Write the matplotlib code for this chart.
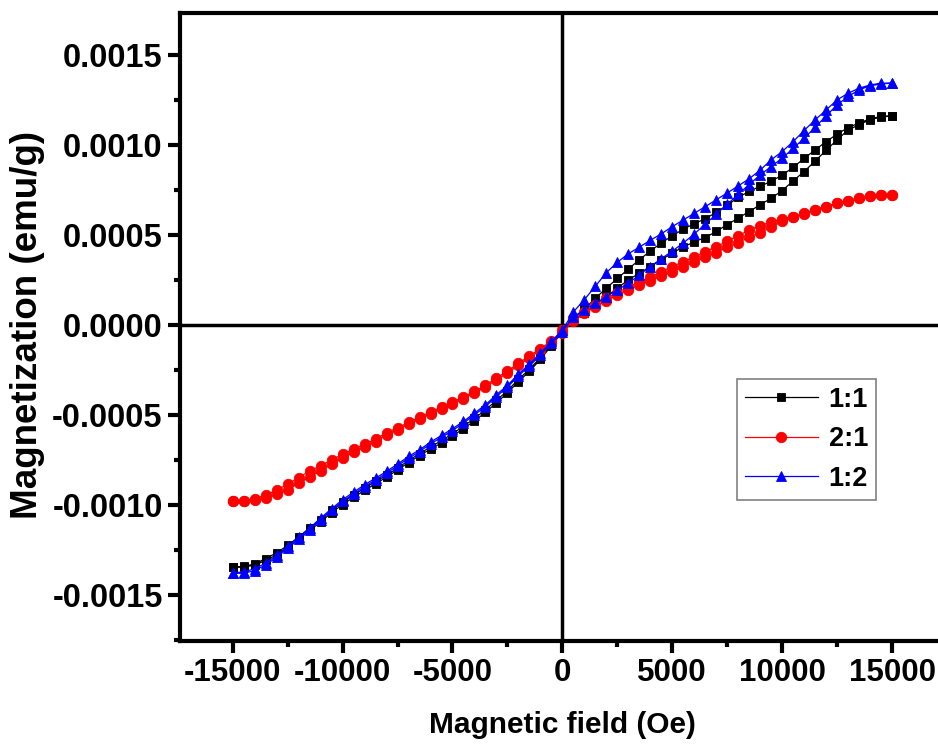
import numpy as np
import matplotlib
matplotlib.use("Agg")
from matplotlib import pyplot as plt
from matplotlib.ticker import MultipleLocator, FormatStrFormatter

plt.rcParams['font.family'] = ['Liberation Sans', 'DejaVu Sans']
plt.rcParams['font.weight'] = 'bold'
plt.rcParams['axes.unicode_minus'] = False

# field sweep, 500 Oe steps: +15000 -> -15000, then back up
field_down = np.arange(15000, -15001, -500)
field_up = field_down[::-1]

# sample 1:1 (emu/g)
m11_down = [0.001161, 0.001158, 0.001145, 0.001122, 0.001096, 0.001060, 0.001018, 0.000972,
            0.000925, 0.000875, 0.000832, 0.000798, 0.000770, 0.000742, 0.000708, 0.000665,
            0.000625, 0.000590, 0.000562, 0.000532, 0.000495, 0.000455, 0.000410, 0.000362,
            0.000310, 0.000258, 0.000204, 0.000148, 0.000088, 0.000030, -0.000030,
            -0.000105, -0.000182, -0.000246, -0.000303, -0.000365, -0.000420, -0.000472,
            -0.000520, -0.000563, -0.000605, -0.000643, -0.000678, -0.000715, -0.000754,
            -0.000795, -0.000835, -0.000870, -0.000907, -0.000946, -0.000986, -0.001030,
            -0.001082, -0.001128, -0.001178, -0.001225, -0.001266, -0.001298, -0.001328,
            -0.001342, -0.001345]
m11_up = [-0.001345, -0.001345, -0.001335, -0.001308, -0.001278, -0.001238, -0.001192,
          -0.001142, -0.001095, -0.001043, -0.000998, -0.000958, -0.000920, -0.000882,
          -0.000846, -0.000806, -0.000765, -0.000726, -0.000690, -0.000655, -0.000618,
          -0.000576, -0.000533, -0.000486, -0.000433, -0.000378, -0.000315, -0.000258,
          -0.000192, -0.000115, -0.000040,
          0.000020, 0.000065, 0.000111, 0.000157, 0.000204, 0.000250, 0.000287, 0.000324,
          0.000361, 0.000400, 0.000432, 0.000462, 0.000485, 0.000519, 0.000557, 0.000593,
          0.000630, 0.000667, 0.000704, 0.000746, 0.000800, 0.000852, 0.000910, 0.000970,
          0.001028, 0.001083, 0.001112, 0.001140, 0.001155, 0.001161]

# sample 2:1
m21_down = [0.000722, 0.000722, 0.000717, 0.000704, 0.000691, 0.000676, 0.000657, 0.000641,
            0.000620, 0.000602, 0.000590, 0.000572, 0.000552, 0.000526, 0.000496, 0.000465,
            0.000434, 0.000407, 0.000378, 0.000352, 0.000324, 0.000296, 0.000266, 0.000240,
            0.000210, 0.000180, 0.000148, 0.000111, 0.000074, 0.000037, -0.000030,
            -0.000090, -0.000132, -0.000172, -0.000214, -0.000257, -0.000295, -0.000336,
            -0.000369, -0.000400, -0.000428, -0.000456, -0.000484, -0.000512, -0.000542,
            -0.000572, -0.000598, -0.000635, -0.000662, -0.000690, -0.000718, -0.000750,
            -0.000782, -0.000812, -0.000848, -0.000885, -0.000918, -0.000945, -0.000965,
            -0.000978, -0.000981]
m21_up = [-0.000981, -0.000981, -0.000975, -0.000962, -0.000942, -0.000915, -0.000880,
          -0.000845, -0.000810, -0.000775, -0.000740, -0.000706, -0.000678, -0.000648,
          -0.000610, -0.000582, -0.000552, -0.000521, -0.000493, -0.000465, -0.000437,
          -0.000409, -0.000378, -0.000345, -0.000305, -0.000267, -0.000224, -0.000182,
          -0.000141, -0.000100, -0.000045,
          0.000024, 0.000065, 0.000102, 0.000135, 0.000167, 0.000194, 0.000222, 0.000246,
          0.000272, 0.000296, 0.000324, 0.000348, 0.000376, 0.000402, 0.000431, 0.000457,
          0.000487, 0.000513, 0.000542, 0.000575, 0.000598, 0.000618, 0.000640, 0.000656,
          0.000675, 0.000690, 0.000703, 0.000716, 0.000721, 0.000722]

# sample 1:2
m12_down = [0.001343, 0.001343, 0.001333, 0.001315, 0.001287, 0.001250, 0.001194, 0.001139,
            0.001080, 0.001018, 0.000963, 0.000917, 0.000860, 0.000812, 0.000772, 0.000733,
            0.000695, 0.000657, 0.000620, 0.000583, 0.000546, 0.000506, 0.000470, 0.000432,
            0.000395, 0.000348, 0.000290, 0.000215, 0.000140, 0.000072, -0.000030,
            -0.000092, -0.000157, -0.000218, -0.000273, -0.000336, -0.000388, -0.000444,
            -0.000490, -0.000536, -0.000577, -0.000614, -0.000651, -0.000694, -0.000731,
            -0.000773, -0.000814, -0.000851, -0.000888, -0.000929, -0.000971, -0.001021,
            -0.001073, -0.001129, -0.001181, -0.001231, -0.001281, -0.001323, -0.001355,
            -0.001372, -0.001378]
m12_up = [-0.001380, -0.001380, -0.001365, -0.001333, -0.001291, -0.001241, -0.001191,
          -0.001139, -0.001083, -0.001031, -0.000981, -0.000939, -0.000898, -0.000861,
          -0.000824, -0.000783, -0.000741, -0.000704, -0.000661, -0.000624, -0.000587,
          -0.000546, -0.000500, -0.000454, -0.000398, -0.000346, -0.000283, -0.000228,
          -0.000167, -0.000102, -0.000037,
          0.000046, 0.000083, 0.000120, 0.000157, 0.000194, 0.000231, 0.000278, 0.000324,
          0.000368, 0.000410, 0.000455, 0.000505, 0.000560, 0.000615, 0.000670, 0.000725,
          0.000780, 0.000833, 0.000880, 0.000926, 0.000981, 0.001037, 0.001098, 0.001161,
          0.001222, 0.001269, 0.001306, 0.001328, 0.001339, 0.001343]

labels = ['1:1', '2:1', '1:2']
colors = ['#000000', '#ff0000', '#0000ff']
markers = ['s', 'o', '^']
msizes = [6, 7.5, 7.5]
series = [(m11_down, m11_up), (m21_down, m21_up), (m12_down, m12_up)]

fig = plt.figure(figsize=(9.38, 7.46), dpi=100)
ax = fig.add_axes([0.1919, 0.1408, 0.8153, 0.8418])

ax.axhline(0, color='black', lw=2.5, zorder=1)
ax.axvline(0, color='black', lw=2.5, zorder=1)

field_loop = np.concatenate([field_down, field_up])
for (down, up), lab, c, mk, ms in zip(series, labels, colors, markers, msizes):
    m_loop = np.concatenate([down, up])
    ax.plot(field_loop, m_loop, color=c, lw=0.9, marker=mk, ms=ms,
            markerfacecolor=c, markeredgecolor=c, markeredgewidth=0.6,
            label=lab, zorder=3)

ax.set_xlim(-17400, 17400)
ax.set_ylim(-0.001756, 0.001733)

ax.xaxis.set_major_locator(MultipleLocator(5000))
ax.xaxis.set_minor_locator(MultipleLocator(2500))
ax.yaxis.set_major_locator(MultipleLocator(0.0005))
ax.yaxis.set_minor_locator(MultipleLocator(0.00025))
ax.yaxis.set_major_formatter(FormatStrFormatter('%.4f'))

for side in ['left', 'bottom', 'top', 'right']:
    ax.spines[side].set_linewidth(3)
ax.tick_params(which='major', direction='out', length=8.5, width=3, pad=4)
ax.tick_params(which='minor', direction='out', length=4.5, width=3)
ax.tick_params(axis='x', which='major', labelsize=22.5)
ax.tick_params(axis='y', which='major', labelsize=23.5)

ax.set_xlabel('Magnetic field (Oe)', fontsize=21.5, fontweight='bold')
ax.set_ylabel('Magnetization (emu/g)', fontsize=26.5, fontweight='bold')
ax.xaxis.set_label_coords(0.5, -0.112)
ax.yaxis.set_label_coords(-0.176, 0.503)

leg = ax.legend(loc='lower left', bbox_to_anchor=(0.71, 0.203), fontsize=19.5,
                handlelength=2.7, labelspacing=0.5, borderpad=0.3,
                handletextpad=0.4, fancybox=False, framealpha=1)
leg.get_frame().set_edgecolor('#808080')
leg.get_frame().set_linewidth(1.2)

fig.savefig('out.png', dpi=100)
